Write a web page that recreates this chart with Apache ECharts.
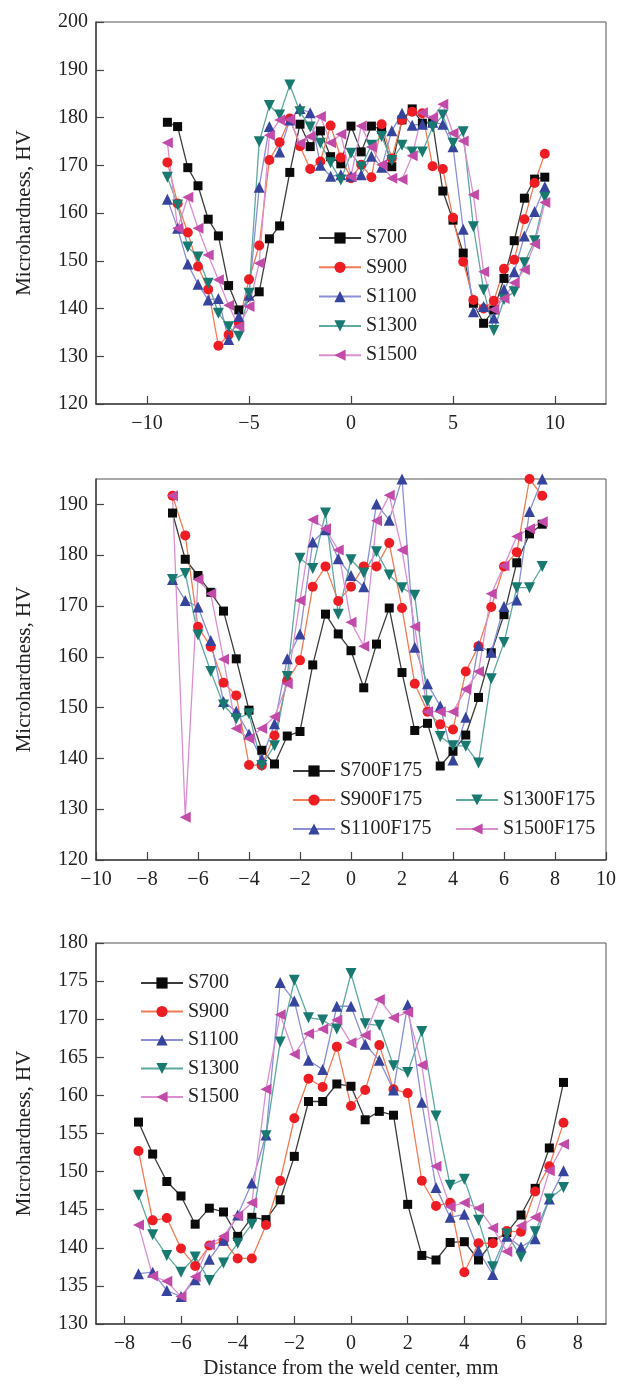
<!DOCTYPE html>
<html>
<head>
<meta charset="utf-8">
<script src="https://cdn.jsdelivr.net/npm/echarts@6/dist/echarts.min.js"></script>
<style>
  html, body { margin: 0; padding: 0; background: #fff; }
  #chart { width: 621px; height: 1391px; }
</style>
</head>
<body>
<div id="chart"></div>
<script>
// distances from the weld center, mm (0.5 mm step)
var xsA = [-9,-8.5,-8,-7.5,-7,-6.5,-6,-5.5,-5,-4.5,-4,-3.5,-3,-2.5,-2,-1.5,-1,-0.5,0,0.5,1,1.5,2,2.5,3,3.5,4,4.5,5,5.5,6,6.5,7,7.5,8,8.5,9,9.5];
var xsB = [-7,-6.5,-6,-5.5,-5,-4.5,-4,-3.5,-3,-2.5,-2,-1.5,-1,-0.5,0,0.5,1,1.5,2,2.5,3,3.5,4,4.5,5,5.5,6,6.5,7,7.5];
var xsC = [-7.5,-7,-6.5,-6,-5.5,-5,-4.5,-4,-3.5,-3,-2.5,-2,-1.5,-1,-0.5,0,0.5,1,1.5,2,2.5,3,3.5,4,4.5,5,5.5,6,6.5,7,7.5];

// top panel
var a700  = [179.0,178.1,169.5,165.7,158.7,155.2,144.8,139.7,null,143.5,154.6,157.3,168.5,178.6,173.9,177.2,171.8,170.3,178.2,172.8,178.2,177.5,169.7,179.5,181.8,178.8,178.9,164.6,158.5,151.6,141.1,136.9,139.7,146.3,154.2,163.1,167.1,167.5];
var a900  = [170.6,162.0,155.9,148.8,144.0,132.2,134.5,137.0,146.1,153.2,171.1,174.8,179.8,174.0,169.2,170.8,178.3,171.6,167.3,170.1,167.5,178.6,171.4,179.5,181.2,180.9,169.8,169.2,159.0,149.8,141.8,140.0,141.6,148.3,150.2,158.7,166.3,172.4];
var a1100 = [162.9,156.8,149.3,145.1,141.8,142.1,133.5,138.3,142.8,165.4,178.1,172.8,179.5,181.9,181.0,170.0,167.7,168.0,167.7,168.0,171.9,169.6,177.2,180.9,178.4,178.6,179.0,178.6,173.9,156.6,139.3,140.4,138.0,144.0,147.7,155.2,160.3,165.5];
var a1300 = [167.5,161.7,152.9,150.8,145.3,139.0,136.2,134.2,143.2,174.9,182.5,180.5,186.8,181.2,178.0,174.6,170.5,166.9,172.5,169.7,174.2,176.0,171.0,174.2,172.8,172.8,178.0,180.5,174.6,177.0,157.1,143.9,135.4,141.9,143.5,149.6,154.2,163.3];
var a1500 = [174.7,156.8,163.3,156.8,151.2,146.0,140.7,136.2,140.4,149.5,176.3,179.5,179.6,174.6,176.0,180.2,174.7,176.5,167.6,178.2,173.8,170.1,167.3,167.0,172.0,181.0,180.0,182.8,176.7,175.1,163.8,147.7,139.8,142.1,145.4,148.1,153.5,162.2];

// middle panel
var b700  = [188.3,179.2,176.0,172.7,169.0,159.6,149.5,141.6,138.9,144.4,145.3,158.4,168.4,164.5,161.2,153.9,162.5,169.6,156.9,145.5,146.9,138.5,141.4,144.6,152.0,160.8,168.3,178.5,184.2,186.1];
var b900  = [191.7,183.9,165.9,162.0,154.9,152.4,138.7,138.6,144.5,155.3,159.3,173.8,177.8,171.0,173.8,177.8,177.8,182.4,169.6,154.7,149.2,146.7,145.7,157.1,162.1,169.8,177.8,180.6,195.0,191.7];
var b1100 = [175.2,171.1,169.8,163.2,151.2,149.3,144.8,139.9,146.8,159.6,164.5,182.6,185.0,179.3,176.0,173.8,190.1,186.9,195.0,161.9,154.7,150.3,139.7,148.1,162.2,160.9,169.9,171.2,188.6,195.0];
var b1300 = [175.2,176.4,164.3,157.1,150.5,147.8,148.8,138.6,142.5,156.1,179.4,177.4,188.3,168.4,179.1,176.5,180.7,176.1,173.6,172.1,151.3,144.3,142.5,142.4,139.1,155.7,162.8,173.6,173.6,177.8];
var b1500 = [191.7,128.4,175.2,172.4,159.5,145.9,143.9,145.9,148.2,154.7,171.1,187.0,185.2,181.0,166.8,162.1,186.8,191.8,181.0,165.9,149.2,149.2,149.2,153.6,157.1,172.4,177.9,183.7,185.2,186.6];

// bottom panel
var c700  = [156.5,152.3,148.7,146.8,143.1,145.2,144.7,141.5,144.0,143.7,146.3,152.0,159.2,159.2,161.5,161.2,156.8,157.9,157.4,145.7,139.0,138.4,140.7,140.8,138.4,140.8,142.0,144.3,147.8,153.1,161.7];
var c900  = [152.7,143.6,143.9,139.9,137.6,140.3,140.9,138.6,138.6,143.0,148.8,157.0,162.2,161.1,166.4,158.6,160.7,166.6,160.8,160.3,148.8,145.5,145.9,136.8,140.6,140.6,142.2,142.1,147.4,150.7,156.4];
var c1100 = [136.6,136.8,134.4,133.6,135.8,138.5,141.0,144.3,148.5,154.8,174.8,172.4,164.6,163.4,171.7,171.7,166.7,164.6,160.7,171.9,159.1,147.9,144.0,144.4,139.6,136.5,141.5,140.1,141.2,146.4,150.1];
var c1300 = [146.9,141.7,139.0,136.8,138.8,135.7,138.0,140.6,143.1,154.7,167.0,175.1,170.2,169.9,168.7,176.0,169.4,169.2,163.9,163.0,168.4,157.3,148.2,149.0,143.6,137.5,141.8,138.8,142.1,146.4,147.9];
var c1500 = [143.0,136.3,135.6,133.6,136.2,140.4,141.5,144.2,145.9,160.8,170.6,165.4,168.1,168.7,169.9,166.9,167.9,172.6,170.2,170.9,164.0,150.7,145.4,145.9,145.2,142.6,139.5,142.9,144.0,150.1,153.6];

// tick labels
var ticksXA = [-10,-5,0,5,10];
var ticksXB = [-10,-8,-6,-4,-2,0,2,4,6,8,10];
var ticksXC = [-8,-6,-4,-2,0,2,4,6,8];
var ticksYB = [120,130,140,150,160,170,180,190];

var FONT = 'Liberation Serif';
var INK = '#222';

// marker look per welding speed
var looks = [
    {symbol: 'rect', size: 9, fill: '#0a0a0a', line: '#3c3c3c'},
    {symbol: 'circle', size: 10, fill: '#ee1d24', line: '#f27a55'},
    {symbol: 'path://M5,0 L10,9 L0,9 Z', size: 11, fill: '#36449e', line: '#8a8fd6'},
    {symbol: 'path://M0,0 L10,0 L5,9 Z', size: 11, fill: '#17796f', line: '#5ea9a0'},
    {symbol: 'path://M0,5 L9,0 L9,10 Z', size: 11, fill: '#c24ba9', line: '#dc8fd0'}
];

function minus(v) {
    return v < 0 ? '\u2212' + (-v) : String(v);
}

function makeSeries(name, xs, ys, idx, look) {
    return {
        name: name,
        type: 'line',
        xAxisIndex: idx,
        yAxisIndex: idx,
        data: xs.map(function (x, i) { return [x, ys[i]]; }),
        connectNulls: true,
        symbol: look.symbol,
        symbolSize: look.size,
        itemStyle: {color: look.fill},
        lineStyle: {color: look.line, width: 1.3},
        emphasis: {disabled: true},
        animation: false,
        z: 3
    };
}

function xAxisOf(idx, min, max, ticks, withName) {
    var ax = {
        gridIndex: idx,
        type: 'value',
        min: min,
        max: max,
        axisLine: {show: true, onZero: false, lineStyle: {color: '#444', width: 1.5}},
        axisTick: {show: true, inside: true, length: 8, customValues: ticks, lineStyle: {color: '#444', width: 1.2}},
        axisLabel: {customValues: ticks, formatter: minus, color: INK, fontFamily: FONT, fontSize: 20, margin: 10},
        splitLine: {show: false}
    };
    if (withName) {
        ax.name = 'Distance from the weld center, mm';
        ax.nameLocation = 'middle';
        ax.nameGap = 34;
        ax.nameTextStyle = {color: INK, fontFamily: FONT, fontSize: 21};
    }
    return ax;
}

function yAxisOf(idx, min, max, interval, ticks) {
    var ax = {
        gridIndex: idx,
        type: 'value',
        min: min,
        max: max,
        interval: interval,
        name: 'Microhardness, HV',
        nameLocation: 'middle',
        nameRotate: 90,
        nameGap: 61,
        nameTextStyle: {color: INK, fontFamily: FONT, fontSize: 21},
        axisLine: {show: true, onZero: false, lineStyle: {color: '#444', width: 1.5}},
        axisTick: {show: true, inside: true, length: 8, lineStyle: {color: '#444', width: 1.2}},
        axisLabel: {color: INK, fontFamily: FONT, fontSize: 20, margin: 8},
        splitLine: {show: false}
    };
    if (ticks) {
        ax.axisTick.customValues = ticks;
        ax.axisLabel.customValues = ticks;
    }
    return ax;
}

function legendOf(names, left, top, gap) {
    return {
        data: names,
        orient: 'vertical',
        left: left,
        top: top,
        padding: 0,
        itemWidth: 42,
        itemHeight: 14,
        itemGap: gap,
        selectedMode: false,
        textStyle: {color: INK, fontFamily: FONT, fontSize: 20, lineHeight: 20}
    };
}

var namesA = ['S700', 'S900', 'S1100', 'S1300', 'S1500'];
var namesB = ['S700F175', 'S900F175', 'S1100F175', 'S1300F175', 'S1500F175'];

var dataA = [a700, a900, a1100, a1300, a1500];
var dataB = [b700, b900, b1100, b1300, b1500];
var dataC = [c700, c900, c1100, c1300, c1500];

var series = [];
for (var i = 0; i < 5; i++) {
    series.push(makeSeries(namesA[i], xsA, dataA[i], 0, looks[i]));
    series.push(makeSeries(namesB[i], xsB, dataB[i], 1, looks[i]));
    series.push(makeSeries(namesA[i], xsC, dataC[i], 2, looks[i]));
}

var chart = echarts.init(document.getElementById('chart'), null, {renderer: 'canvas'});
chart.setOption({
    backgroundColor: '#fff',
    animation: false,
    grid: [
        {left: 96, top: 22, width: 510, height: 382, show: true, borderColor: '#555', borderWidth: 1},
        {left: 96, top: 479, width: 510, height: 381, show: true, borderColor: '#555', borderWidth: 1},
        {left: 96, top: 943, width: 510, height: 381, show: true, borderColor: '#555', borderWidth: 1}
    ],
    xAxis: [
        xAxisOf(0, -12.5, 12.5, ticksXA, false),
        xAxisOf(1, -10, 10, ticksXB, false),
        xAxisOf(2, -9, 9, ticksXC, true)
    ],
    yAxis: [
        yAxisOf(0, 120, 200, 10, null),
        yAxisOf(1, 120, 195, 10, ticksYB),
        yAxisOf(2, 130, 180, 5, null)
    ],
    legend: [
        legendOf(namesA, 318, 228, 9.3),
        legendOf(namesB.slice(0, 3), 292, 761, 9),
        legendOf(namesB.slice(3), 455, 790, 9),
        legendOf(namesA, 140, 973, 8.5)
    ],
    series: series
});
</script>
</body>
</html>
